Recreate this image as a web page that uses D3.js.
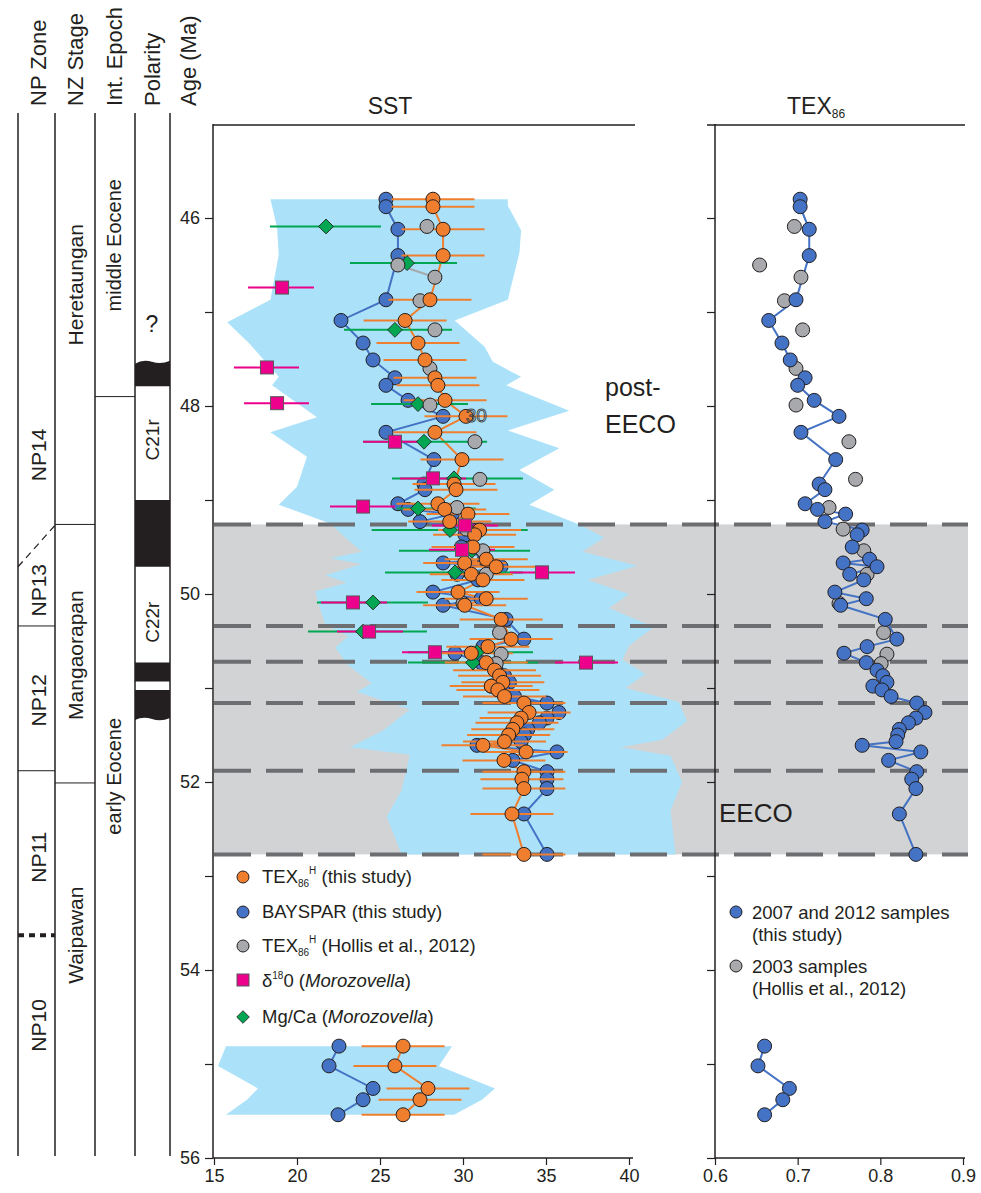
<!DOCTYPE html>
<html>
<head>
<meta charset="utf-8">
<script src="https://cdn.jsdelivr.net/npm/d3@7"></script>
<style>
  body { margin: 0; background: #fff; }
  text { font-family: "Liberation Sans", Arial, sans-serif; fill: #231f20; }
</style>
</head>
<body>
<div id="chart"></div>
<script>
// ---------------- data ----------------
// samples of this study (2007 / 2012): age, BAYSPAR SST, TEX86H SST, TEX86 index
var sampleAge = [45.80, 45.88, 46.12, 46.40, 46.87, 47.09, 47.33, 47.51, 47.70, 47.78, 47.94, 48.11, 48.28, 48.57, 48.83, 48.89,
  49.04, 49.10, 49.15, 49.23, 49.32, 49.37, 49.50, 49.63, 49.67, 49.71, 49.79, 49.85, 49.98, 50.05, 50.12, 50.27, 50.48, 50.56,
  50.63, 50.73, 50.81, 50.87, 50.94, 50.98, 51.02, 51.09, 51.16, 51.26, 51.32, 51.37, 51.44, 51.50, 51.57, 51.61, 51.68, 51.77,
  51.89, 51.97, 52.07, 52.34, 52.77, 54.81, 55.02, 55.26, 55.38, 55.54];
var baysparSST = [25.36, 25.36, 26.08, 26.08, 25.36, 22.65, 23.98, 24.58, 25.90, 25.36, 26.69, 28.80, 25.36, 28.25, 27.65, 27.71,
  26.08, 26.69, 29.35, 27.41, 30.60, 30.12, 29.90, 31.30, 28.80, 32.29, 29.64, 30.90, 28.19, 31.10, 28.80, 32.60, 33.67, 31.20,
  29.52, 31.10, 32.00, 32.50, 32.80, 31.70, 32.40, 33.10, 35.06, 35.78, 35.06, 34.60, 33.90, 33.70, 33.50, 30.84, 35.66, 33.00,
  35.06, 35.06, 35.06, 33.67, 35.06, 22.53, 21.93, 24.58, 23.98, 22.47];
var tex86hSST = [28.19, 28.19, 28.80, 28.80, 28.01, 26.51, 27.29, 27.71, 28.31, 28.49, 28.92, 30.18, 28.31, 29.94, 29.46, 29.58,
  28.49, 28.90, 30.30, 29.20, 31.00, 30.70, 30.60, 31.40, 30.10, 32.00, 30.50, 31.20, 29.70, 31.40, 30.10, 32.30, 32.90, 31.50,
  30.50, 31.40, 31.90, 32.20, 32.40, 31.70, 32.10, 32.50, 33.67, 33.98, 33.50, 33.25, 33.00, 32.75, 32.50, 31.20, 33.80, 32.47,
  33.67, 33.55, 33.67, 32.95, 33.67, 26.39, 25.90, 27.89, 27.41, 26.39];
var tex86Index = [0.703, 0.703, 0.714, 0.714, 0.698, 0.665, 0.681, 0.691, 0.709, 0.700, 0.720, 0.750, 0.704, 0.746, 0.726, 0.733,
  0.709, 0.724, 0.758, 0.733, 0.778, 0.772, 0.766, 0.787, 0.755, 0.796, 0.763, 0.780, 0.745, 0.783, 0.752, 0.806, 0.820, 0.784,
  0.756, 0.783, 0.796, 0.803, 0.808, 0.791, 0.802, 0.813, 0.844, 0.854, 0.843, 0.834, 0.823, 0.821, 0.819, 0.778, 0.849, 0.810,
  0.844, 0.838, 0.843, 0.823, 0.843, 0.660, 0.652, 0.690, 0.682, 0.660];
var tex86hError = 2.5;

// 2003 samples (Hollis et al., 2012)
var hollisAge = [46.09, 46.50, 46.63, 46.88, 47.19, 47.60, 47.99, 48.38, 48.78, 49.08, 49.31, 49.54, 49.79, 50.10, 50.41, 50.64, 50.74];
var hollisSST = [27.83, 26.08, 28.31, 27.41, 28.31, 28.01, 28.01, 30.72, 31.02, 29.64, 30.20, 31.20, 31.40, 30.00, 32.20, 32.30, 32.00];
var hollisTex = [0.696, 0.654, 0.704, 0.684, 0.706, 0.698, 0.698, 0.762, 0.770, 0.738, 0.755, 0.780, 0.784, 0.750, 0.804, 0.808, 0.801];
var hollisLinked = [[1, 2]];

// d18O (Morozovella)
var d18Age = [46.74, 47.59, 47.97, 48.38, 48.77, 49.07, 49.27, 49.53, 49.77, 50.09, 50.40, 50.62, 50.73];
var d18SST = [19.10, 18.19, 18.80, 25.90, 28.19, 23.98, 30.12, 29.94, 34.76, 23.37, 24.34, 28.31, 37.41];
var d18Lo = [17.05, 16.20, 16.81, 23.98, 26.20, 21.99, 28.13, 27.95, 32.83, 21.45, 22.41, 26.33, 35.54];
var d18Hi = [21.02, 20.12, 20.72, 27.89, 30.18, 25.90, 32.11, 31.93, 36.75, 25.42, 26.39, 30.24, 39.34];

// Mg/Ca (Morozovella)
var mgAge = [46.09, 46.48, 47.19, 47.98, 48.38, 48.77, 49.09, 49.32, 49.54, 49.77, 50.09, 50.40, 50.62, 50.73];
var mgSST = [21.75, 26.63, 25.90, 27.29, 27.65, 29.46, 27.29, 29.22, 30.54, 29.52, 24.58, 23.98, 30.84, 30.60];
var mgLo = [18.37, 23.19, 22.83, 24.46, 23.98, 25.72, 26.02, 24.50, 26.14, 25.30, 21.20, 20.66, 26.69, 26.69];
var mgHi = [25.06, 29.64, 29.34, 30.30, 31.45, 33.61, 30.78, 33.90, 34.04, 33.61, 27.89, 27.83, 34.22, 34.52];

// SST envelope (light blue)
var envLeftAge = [45.80, 46.10, 46.39, 46.87, 47.11, 47.33, 47.69, 47.78, 48.12, 48.28, 48.54, 48.86, 49.05, 49.25, 49.40, 49.55,
  49.62, 49.68, 49.80, 49.88, 49.97, 50.10, 50.33, 50.45, 50.57, 50.76, 50.95, 51.04, 51.23, 51.45, 51.63, 51.71, 52.09, 52.37, 52.77];
var envLeftSST = [18.4, 18.8, 18.9, 18.4, 15.8, 17.1, 18.9, 18.5, 21.2, 18.4, 20.6, 20.0, 18.9, 22.0, 22.9, 23.9,
  22.0, 23.9, 21.7, 23.0, 21.1, 21.3, 21.7, 23.1, 22.3, 23.1, 24.5, 23.6, 26.8, 25.2, 23.2, 26.8, 26.3, 25.4, 26.3];
var envRightAge = [45.80, 45.87, 46.13, 46.37, 46.87, 47.09, 47.37, 47.53, 47.69, 47.78, 48.05, 48.26, 48.45, 48.68, 48.89, 49.05,
  49.26, 49.40, 49.55, 49.70, 49.85, 50.00, 50.15, 50.35, 50.55, 50.70, 50.85, 51.00, 51.15, 51.35, 51.55, 51.63, 51.72, 52.00, 52.30, 52.77];
var envRightSST = [32.7, 32.7, 33.5, 33.4, 32.7, 29.5, 31.3, 31.8, 33.5, 32.6, 36.4, 32.7, 35.8, 33.4, 35.5, 34.0,
  37.0, 38.5, 37.2, 40.5, 37.5, 40.0, 38.8, 41.5, 40.0, 39.6, 41.0, 39.8, 43.0, 43.5, 42.0, 39.5, 42.5, 43.2, 42.5, 42.8];
var envLowAge = [54.81, 55.02, 55.26, 55.38, 55.54];
var envLowLeft = [15.72, 15.24, 17.65, 16.99, 15.72];
var envLowRight = [29.34, 28.55, 31.93, 31.14, 29.46];

// EECO interval and its dashed horizons
var eecoTop = 49.26, eecoBase = 52.77;
var dashedAges = [49.26, 50.34, 50.72, 51.16, 51.88, 52.77];

// stratigraphy
var columnHeaders = ["NP Zone", "NZ Stage", "Int. Epoch", "Polarity", "Age (Ma)"];
var npZones = ["NP14", "NP13", "NP12", "NP11", "NP10"];
var npZoneMid = [48.52, 49.96, 51.13, 52.80, 54.59];
var nzStages = ["Heretaungan", "Mangaorapan", "Waipawan"];
var nzStageMid = [46.71, 50.65, 53.63];
var nzStageBounds = [49.26, 52.01];
var epochs = ["middle Eocene", "early Eocene"];
var epochMid = [46.29, 51.94];
var epochBound = 47.90;
var chronNames = ["C21r", "C22r"];
var chronMid = [48.36, 50.30];
var blackChrons = [[47.53, 47.79], [49.00, 49.71], [50.73, 50.93], [51.02, 51.33]];

var ageTicks = d3.range(46, 57);
var sstTicks = [15, 20, 25, 30, 35, 40];
var texTicks = [0.6, 0.7, 0.8, 0.9];

// ---------------- colours ----------------
var cOrange = "#ef7f2e", cBlue = "#4472c4", cGrey = "#a7a9ac", cPink = "#ec008c", cGreen = "#00a651";
var cEnv = "#abe2f9", cBand = "#d1d3d4", cDash = "#6d6e71", cInk = "#231f20";

// ---------------- svg + scales ----------------
var svg = d3.select("#chart").append("svg").attr("width", 981).attr("height", 1193);

var y = d3.scaleLinear().domain([45, 56]).range([124, 1158]);
var xS = d3.scaleLinear().domain([15, 40]).range([214, 629]);
var xT = d3.scaleLinear().domain([0.6, 0.9]).range([715, 963]);

// EECO grey band
svg.append("rect")
  .attr("x", 214).attr("y", y(eecoTop))
  .attr("width", 968 - 214).attr("height", y(eecoBase) - y(eecoTop))
  .attr("fill", cBand);

// SST envelopes
var envPts = envLeftAge.map(function (a, i) { return [xS(envLeftSST[i]), y(a)]; });
for (var i = envRightAge.length - 1; i >= 0; i--) envPts.push([xS(envRightSST[i]), y(envRightAge[i])]);
svg.append("path").attr("d", d3.line()(envPts) + "Z").attr("fill", cEnv);

var envLowPts = envLowAge.map(function (a, i) { return [xS(envLowLeft[i]), y(a)]; });
for (var i = envLowAge.length - 1; i >= 0; i--) envLowPts.push([xS(envLowRight[i]), y(envLowAge[i])]);
svg.append("path").attr("d", d3.line()(envLowPts) + "Z").attr("fill", cEnv);

// dashed horizons
svg.selectAll(".dash").data(dashedAges).enter().append("line")
  .attr("x1", 214).attr("x2", 968)
  .attr("y1", function (d) { return y(d); }).attr("y2", function (d) { return y(d); })
  .attr("stroke", cDash).attr("stroke-width", 4).attr("stroke-dasharray", "37,15");

// ---------------- stratigraphic columns ----------------
var colX = [18, 55, 95, 135, 170];
var strat = svg.append("g").attr("stroke", cInk);
colX.forEach(function (x) {
  strat.append("line").attr("x1", x).attr("x2", x).attr("y1", 113).attr("y2", 1156).attr("stroke-width", 1.5);
});

// polarity blocks (wavy where the record is truncated)
blackChrons.forEach(function (b, k) {
  var y0 = y(b[0]), y1 = y(b[1]);
  var top = k === 0
    ? "M135," + (y0 + 2) + "Q143," + (y0 - 3) + " 152," + y0 + "Q161," + (y0 + 3) + " 170," + (y0 - 1)
    : "M135," + y0 + "H170";
  var bottom = k === blackChrons.length - 1
    ? "L170," + (y1 - 1) + "Q161," + (y1 + 3) + " 152," + y1 + "Q143," + (y1 - 3) + " 135," + (y1 + 1)
    : "V" + y1 + "H135";
  svg.append("path").attr("d", top + bottom + "Z").attr("fill", cInk);
});

// boundaries
strat.append("line").attr("x1", 18).attr("x2", 55).attr("y1", y(49.71)).attr("y2", y(49.27))
  .attr("stroke-width", 1.2).attr("stroke-dasharray", "7,5");
strat.append("line").attr("x1", 18).attr("x2", 55).attr("y1", y(50.34)).attr("y2", y(50.34)).attr("stroke-width", 1);
strat.append("line").attr("x1", 18).attr("x2", 55).attr("y1", y(51.88)).attr("y2", y(51.88)).attr("stroke-width", 1);
strat.append("line").attr("x1", 18).attr("x2", 55).attr("y1", y(53.63)).attr("y2", y(53.63))
  .attr("stroke-width", 4).attr("stroke-dasharray", "6,5");
nzStageBounds.forEach(function (a) {
  strat.append("line").attr("x1", 55).attr("x2", 95).attr("y1", y(a)).attr("y2", y(a)).attr("stroke-width", 1);
});
strat.append("line").attr("x1", 95).attr("x2", 135).attr("y1", y(epochBound)).attr("y2", y(epochBound)).attr("stroke-width", 1);

function vText(x, yy, str, size) {
  return svg.append("text")
    .attr("transform", "translate(" + x + "," + yy + ") rotate(-90)")
    .attr("text-anchor", "middle").attr("dominant-baseline", "central")
    .attr("font-size", size).text(str);
}
var headerX = [38, 75, 114, 152, 188];
columnHeaders.forEach(function (h, i) {
  svg.append("text")
    .attr("transform", "translate(" + headerX[i] + ",106) rotate(-90)")
    .attr("text-anchor", "start").attr("dominant-baseline", "central")
    .attr("font-size", 22).text(h);
});
npZones.forEach(function (z, i) { vText(38, y(npZoneMid[i]), z, 21); });
nzStages.forEach(function (s, i) { vText(75, y(nzStageMid[i]), s, 21); });
epochs.forEach(function (s, i) { vText(114, y(epochMid[i]), s, 20); });
chronNames.forEach(function (s, i) { vText(152, y(chronMid[i]), s, 19); });
svg.append("text").attr("x", 152).attr("y", 332).attr("text-anchor", "middle").attr("font-size", 23).text("?");

// ---------------- axes ----------------
var axL = svg.append("g").attr("transform", "translate(213,0)")
  .call(d3.axisLeft(y).tickValues(ageTicks).tickSize(8).tickPadding(5)
    .tickFormat(function (d) { return d % 2 === 0 ? d : ""; }));
var axR = svg.append("g").attr("transform", "translate(715,0)")
  .call(d3.axisLeft(y).tickValues(ageTicks).tickSize(8).tickFormat(""));
var axBS = svg.append("g").attr("transform", "translate(0,1158)")
  .call(d3.axisBottom(xS).tickValues(sstTicks).tickSize(7).tickPadding(4));
var axBT = svg.append("g").attr("transform", "translate(0,1158)")
  .call(d3.axisBottom(xT).tickValues(texTicks).tickSize(7).tickPadding(4).tickFormat(d3.format(".1f")));
[axL, axR, axBS, axBT].forEach(function (a) {
  a.selectAll("path").attr("stroke", cInk).attr("stroke-width", 1.5);
  a.selectAll("line").attr("stroke", cInk).attr("stroke-width", 1.2);
  a.selectAll("text").attr("font-size", 18).attr("font-family", "Liberation Sans, Arial, sans-serif").attr("fill", cInk);
});
axL.select(".domain").attr("d", "M0,124V1158");
axR.select(".domain").attr("d", "M0,124V1158");
axBS.select(".domain").attr("d", "M213,0H633");
axBT.select(".domain").attr("d", "M715,0H965");

// top lines and titles
svg.append("line").attr("x1", 213).attr("x2", 635).attr("y1", 125).attr("y2", 125).attr("stroke", cInk).attr("stroke-width", 1.5);
svg.append("line").attr("x1", 707).attr("x2", 965).attr("y1", 125).attr("y2", 125).attr("stroke", cInk).attr("stroke-width", 1.5);
svg.append("text").attr("x", 390).attr("y", 114).attr("text-anchor", "middle").attr("font-size", 23).text("SST");
var tt = svg.append("text").attr("x", 787).attr("y", 114).attr("font-size", 23);
tt.append("tspan").text("TEX");
tt.append("tspan").attr("font-size", 12).attr("dy", 4).text("86");

// ---------------- SST panel ----------------
var idx = d3.range(sampleAge.length);
var upper = idx.filter(function (i) { return sampleAge[i] < 54; });
var lower = idx.filter(function (i) { return sampleAge[i] > 54; });

var lineS = function (vals) {
  return d3.line().x(function (i) { return xS(vals[i]); }).y(function (i) { return y(sampleAge[i]); });
};
[upper, lower].forEach(function (g) {
  svg.append("path").attr("d", lineS(baysparSST)(g)).attr("fill", "none").attr("stroke", cBlue).attr("stroke-width", 2);
  svg.append("path").attr("d", lineS(tex86hSST)(g)).attr("fill", "none").attr("stroke", cOrange).attr("stroke-width", 2);
});
hollisLinked.forEach(function (p) {
  svg.append("line")
    .attr("x1", xS(hollisSST[p[0]])).attr("y1", y(hollisAge[p[0]]))
    .attr("x2", xS(hollisSST[p[1]])).attr("y2", y(hollisAge[p[1]]))
    .attr("stroke", cGrey).attr("stroke-width", 2);
});

// blue points
svg.append("g").selectAll("circle").data(idx).enter().append("circle")
  .attr("cx", function (i) { return xS(baysparSST[i]); }).attr("cy", function (i) { return y(sampleAge[i]); })
  .attr("r", 7).attr("fill", cBlue).attr("stroke", cInk).attr("stroke-width", 1);

// error bars
svg.append("g").selectAll("line").data(d3.range(mgAge.length)).enter().append("line")
  .attr("x1", function (i) { return xS(mgLo[i]); }).attr("x2", function (i) { return xS(mgHi[i]); })
  .attr("y1", function (i) { return y(mgAge[i]); }).attr("y2", function (i) { return y(mgAge[i]); })
  .attr("stroke", cGreen).attr("stroke-width", 2);
svg.append("g").selectAll("line").data(d3.range(d18Age.length)).enter().append("line")
  .attr("x1", function (i) { return xS(d18Lo[i]); }).attr("x2", function (i) { return xS(d18Hi[i]); })
  .attr("y1", function (i) { return y(d18Age[i]); }).attr("y2", function (i) { return y(d18Age[i]); })
  .attr("stroke", cPink).attr("stroke-width", 2);
svg.append("g").selectAll("line").data(idx).enter().append("line")
  .attr("x1", function (i) { return xS(tex86hSST[i] - tex86hError); }).attr("x2", function (i) { return xS(tex86hSST[i] + tex86hError); })
  .attr("y1", function (i) { return y(sampleAge[i]); }).attr("y2", function (i) { return y(sampleAge[i]); })
  .attr("stroke", cOrange).attr("stroke-width", 2);

// Mg/Ca diamonds
var diamond = d3.symbol().type(d3.symbolSquare).size(110);
svg.append("g").selectAll("path").data(d3.range(mgAge.length)).enter().append("path")
  .attr("d", diamond)
  .attr("transform", function (i) { return "translate(" + xS(mgSST[i]) + "," + y(mgAge[i]) + ") rotate(45)"; })
  .attr("fill", cGreen).attr("stroke", cInk).attr("stroke-width", 0.8);

// Hollis grey points
svg.append("g").selectAll("circle").data(d3.range(hollisAge.length)).enter().append("circle")
  .attr("cx", function (i) { return xS(hollisSST[i]); }).attr("cy", function (i) { return y(hollisAge[i]); })
  .attr("r", 7).attr("fill", cGrey).attr("stroke", cInk).attr("stroke-width", 1);

// orange points
svg.append("g").selectAll("circle").data(idx).enter().append("circle")
  .attr("cx", function (i) { return xS(tex86hSST[i]); }).attr("cy", function (i) { return y(sampleAge[i]); })
  .attr("r", 7).attr("fill", cOrange).attr("stroke", cInk).attr("stroke-width", 1);

// d18O squares
svg.append("g").selectAll("rect").data(d3.range(d18Age.length)).enter().append("rect")
  .attr("x", function (i) { return xS(d18SST[i]) - 6.5; }).attr("y", function (i) { return y(d18Age[i]) - 6.5; })
  .attr("width", 13).attr("height", 13)
  .attr("fill", cPink).attr("stroke", "#58595b").attr("stroke-width", 1);

// stray label
svg.append("text").attr("x", xS(30.8)).attr("y", y(48.1) + 7).attr("text-anchor", "middle")
  .attr("font-size", 19).style("fill", "none").attr("stroke", "#444").attr("stroke-width", 0.9).text("30");

// annotations
svg.append("text").attr("x", 605).attr("y", 396).attr("font-size", 25).text("post-");
svg.append("text").attr("x", 605).attr("y", 433).attr("font-size", 25).text("EECO");
svg.append("text").attr("x", 719).attr("y", 822).attr("font-size", 26).text("EECO");

// ---------------- TEX86 panel ----------------
var lineT = d3.line().x(function (i) { return xT(tex86Index[i]); }).y(function (i) { return y(sampleAge[i]); });
[upper, lower].forEach(function (g) {
  svg.append("path").attr("d", lineT(g)).attr("fill", "none").attr("stroke", cBlue).attr("stroke-width", 2);
});
svg.append("g").selectAll("circle").data(d3.range(hollisAge.length)).enter().append("circle")
  .attr("cx", function (i) { return xT(hollisTex[i]); }).attr("cy", function (i) { return y(hollisAge[i]); })
  .attr("r", 7).attr("fill", cGrey).attr("stroke", cInk).attr("stroke-width", 1);
svg.append("g").selectAll("circle").data(idx).enter().append("circle")
  .attr("cx", function (i) { return xT(tex86Index[i]); }).attr("cy", function (i) { return y(sampleAge[i]); })
  .attr("r", 7).attr("fill", cBlue).attr("stroke", cInk).attr("stroke-width", 1);

// ---------------- legends ----------------
var legY = [877, 912, 946, 981, 1017];
var lg = svg.append("g");
lg.append("circle").attr("cx", 243).attr("cy", legY[0]).attr("r", 6).attr("fill", cOrange).attr("stroke", cInk);
lg.append("circle").attr("cx", 243).attr("cy", legY[1]).attr("r", 6).attr("fill", cBlue).attr("stroke", cInk);
lg.append("circle").attr("cx", 243).attr("cy", legY[2]).attr("r", 6).attr("fill", cGrey).attr("stroke", cInk);
lg.append("rect").attr("x", 237).attr("y", legY[3] - 7).attr("width", 12).attr("height", 12).attr("fill", cPink).attr("stroke", "#58595b");
lg.append("path").attr("d", diamond.size(80)).attr("transform", "translate(243," + legY[4] + ") rotate(45)")
  .attr("fill", cGreen).attr("stroke", cInk).attr("stroke-width", 0.8);

var fsLeg = 18.5;
function texLabel(yy, rest) {
  var t = lg.append("text").attr("x", 262).attr("y", yy + 6).attr("font-size", fsLeg);
  t.append("tspan").text("TEX");
  t.append("tspan").attr("font-size", 10).attr("dy", 4).text("86");
  t.append("tspan").attr("font-size", 10).attr("dy", -13).text("H");
  t.append("tspan").attr("dy", 9).text(" " + rest);
}
texLabel(legY[0], "(this study)");
lg.append("text").attr("x", 262).attr("y", legY[1] + 6).attr("font-size", fsLeg).text("BAYSPAR (this study)");
texLabel(legY[2], "(Hollis et al., 2012)");
var t4 = lg.append("text").attr("x", 262).attr("y", legY[3] + 6).attr("font-size", fsLeg);
t4.append("tspan").text("δ");
t4.append("tspan").attr("font-size", 10).attr("dy", -8).text("18");
t4.append("tspan").attr("dy", 8).text("0 (");
t4.append("tspan").attr("font-style", "italic").text("Morozovella");
t4.append("tspan").text(")");
var t5 = lg.append("text").attr("x", 262).attr("y", legY[4] + 6).attr("font-size", fsLeg);
t5.append("tspan").text("Mg/Ca (");
t5.append("tspan").attr("font-style", "italic").text("Morozovella");
t5.append("tspan").text(")");

lg.append("circle").attr("cx", 736).attr("cy", 912).attr("r", 6).attr("fill", cBlue).attr("stroke", cInk);
lg.append("circle").attr("cx", 736).attr("cy", 966).attr("r", 6).attr("fill", cGrey).attr("stroke", cInk);
lg.append("text").attr("x", 752).attr("y", 919).attr("font-size", fsLeg).text("2007 and 2012 samples");
lg.append("text").attr("x", 752).attr("y", 941).attr("font-size", fsLeg).text("(this study)");
lg.append("text").attr("x", 752).attr("y", 973).attr("font-size", fsLeg).text("2003 samples");
lg.append("text").attr("x", 752).attr("y", 995).attr("font-size", fsLeg).text("(Hollis et al., 2012)");
</script>
</body>
</html>
